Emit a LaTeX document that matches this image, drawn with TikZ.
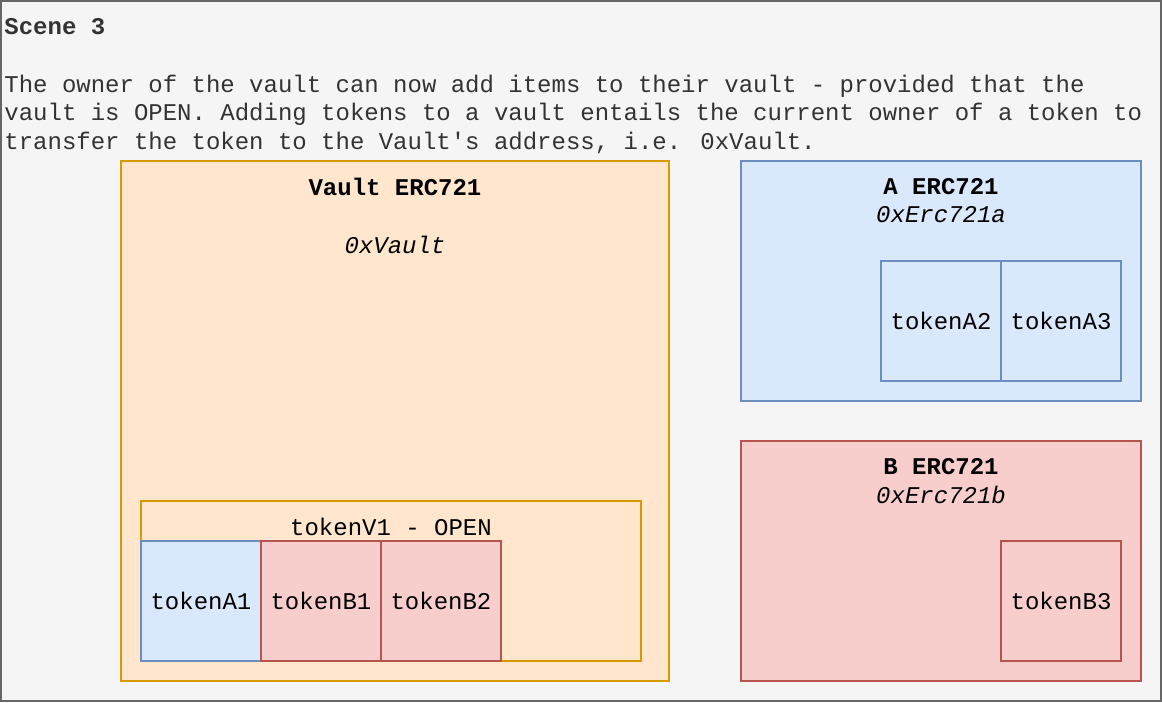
\documentclass[tikz,border=0pt]{standalone}
\usepackage{fontspec}
\setmainfont{Liberation Mono}
\usetikzlibrary{positioning}
\definecolor{bggray}{HTML}{F5F5F5}
\definecolor{framegray}{HTML}{666666}
\definecolor{darktext}{HTML}{333333}
\definecolor{vaultfill}{HTML}{FFE6CC}
\definecolor{vaultline}{HTML}{D79B00}
\definecolor{afill}{HTML}{DAE8FC}
\definecolor{aline}{HTML}{6C8EBF}
\definecolor{bfill}{HTML}{F8CECC}
\definecolor{bline}{HTML}{B85450}
\tikzset{
  box/.style={rectangle, draw, line width=1pt, inner sep=0pt, outer sep=0pt, anchor=north west},
  vaultbox/.style={box, fill=vaultfill, draw=vaultline},
  abox/.style={box, fill=afill, draw=aline},
  bbox/.style={box, fill=bfill, draw=bline},
  token/.style={minimum width=60pt, minimum height=60pt, text=black},
  caption/.style={inner sep=0pt, text=black},
  headline/.style={inner sep=0pt, anchor=base west, text=darktext}
}

\begin{document}
\begin{tikzpicture}[x=0.5pt, y=-0.5pt, font=\fontsize{12}{14.25}\selectfont]
\useasboundingbox (0,0) rectangle (1162,702);
% Background
\draw[line width=1pt, draw=framegray, fill=bggray] (1,1) rectangle (1161,701);

% Header
\node[headline] (scene) at (4,34) {\bfseries Scene 3};
\node[headline] (par1) at (4,92) {The owner of the vault can now add items to their vault - provided that the};
\node[headline] (par2) at (4,120) {vault is OPEN. Adding tokens to a vault entails the current owner of a token to};
\node[headline] (par3) at (4,149) {transfer the token to the Vault\textquotesingle s address, i.e. 0xVault.};

% Vault ERC721
\node[vaultbox, minimum width=274pt, minimum height=260pt] (vault) at (121,161) {};
\node[caption] (vaulttitle) at (395,187) {\bfseries Vault ERC721};
\node[caption] (vaultaddr) at (395,245) {\itshape 0xVault};
\node[vaultbox, minimum width=250pt, minimum height=80pt] (tokenV1) at (141,501) {};
\node[caption] (tokenV1label) at (391,527) {tokenV1 - OPEN};
\node[abox, token] (tokenA1) at (141,541) {tokenA1};
\node[bbox, token, right=0pt of tokenA1.north east, anchor=north west] (tokenB1) {tokenB1};
\node[bbox, token, right=0pt of tokenB1.north east, anchor=north west] (tokenB2) {tokenB2};

% A ERC721
\node[abox, minimum width=200pt, minimum height=120pt] (ercA) at (741,161) {};
\node[caption] (ercAtitle) at (941,187) {\bfseries A ERC721};
\node[caption] (ercAaddr) at (941,215) {\itshape 0xErc721a};
\node[abox, token] (tokenA2) at (881,261) {tokenA2};
\node[abox, token, right=0pt of tokenA2.north east, anchor=north west] (tokenA3) {tokenA3};

% B ERC721
\node[bbox, minimum width=200pt, minimum height=120pt] (ercB) at (741,441) {};
\node[caption] (ercBtitle) at (941,467) {\bfseries B ERC721};
\node[caption] (ercBaddr) at (941,495) {\itshape 0xErc721b};
\node[bbox, token] (tokenB3) at (1001,541) {tokenB3};
\end{tikzpicture}
\end{document}
